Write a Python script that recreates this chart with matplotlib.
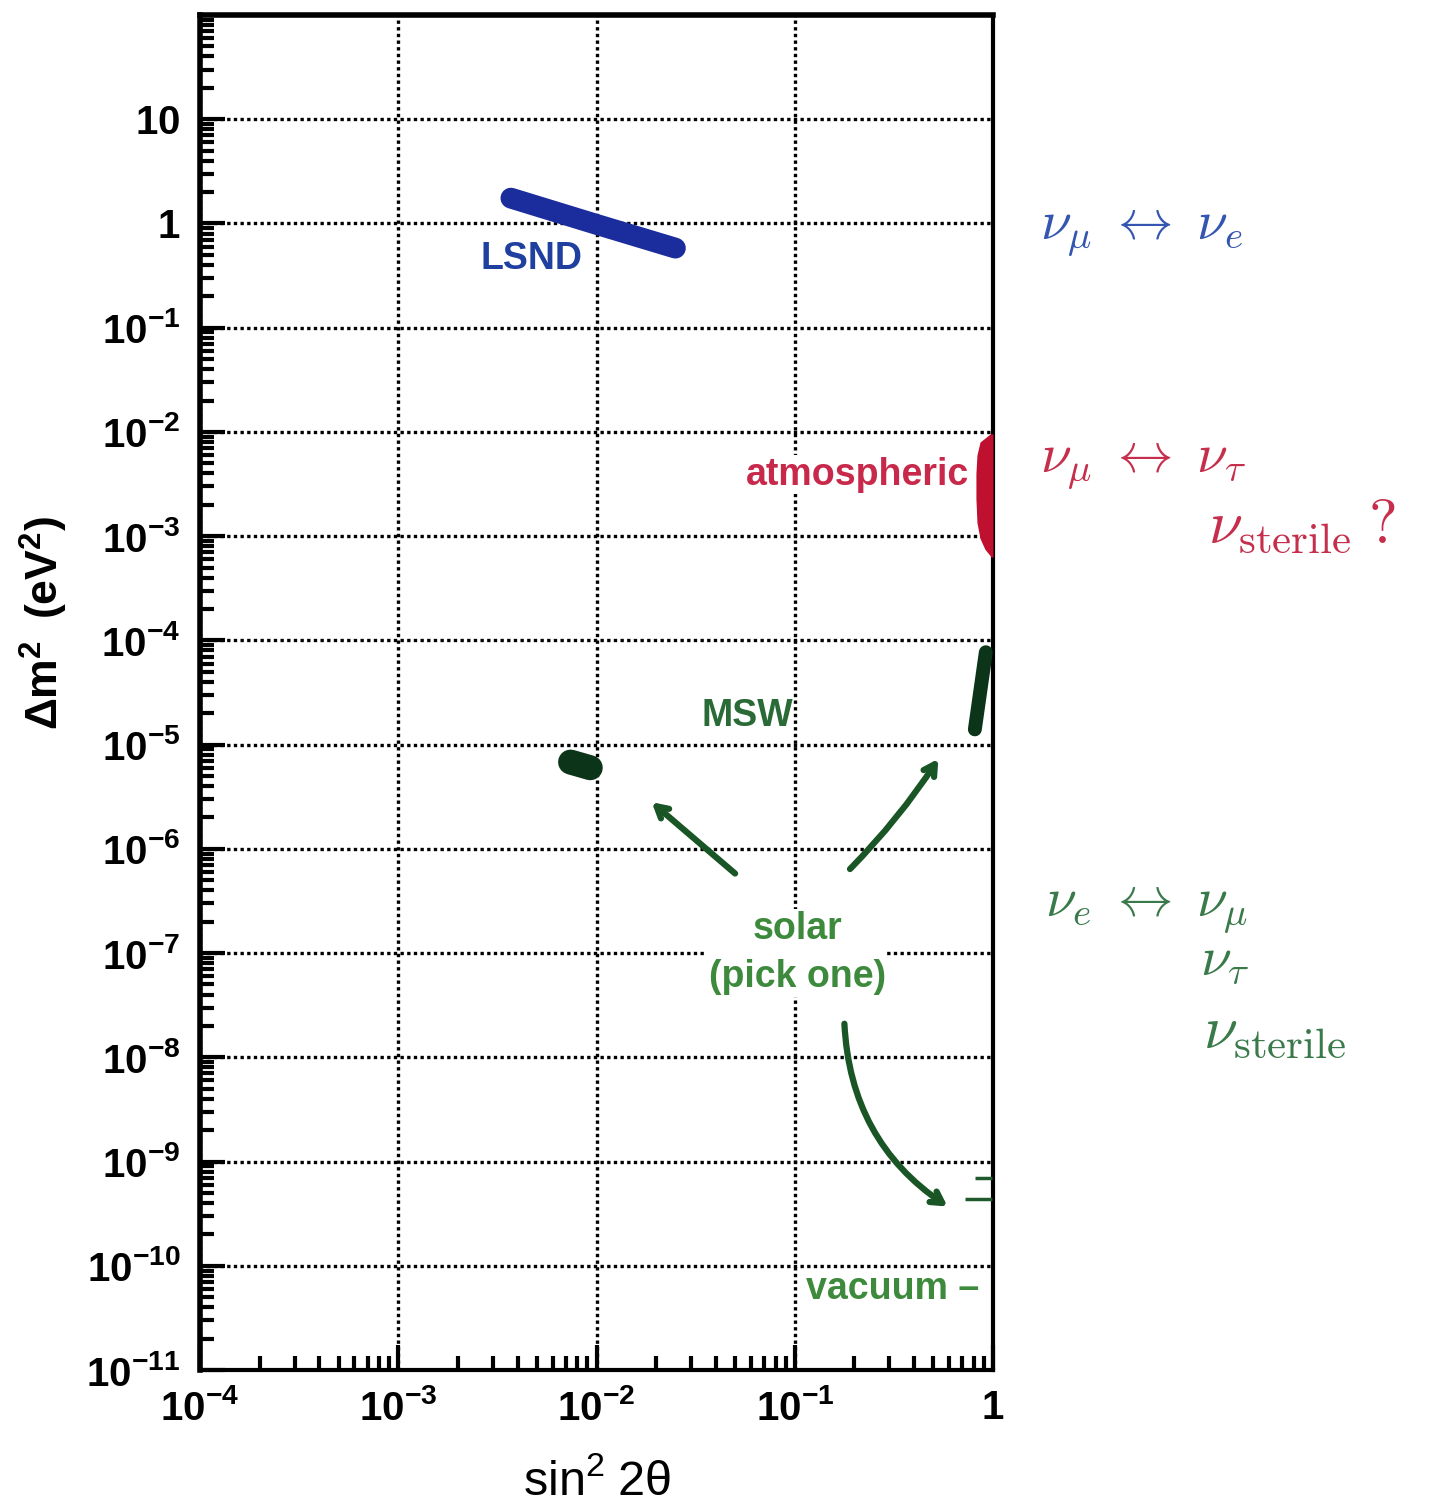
import matplotlib.pyplot as plt
import numpy as np
from matplotlib.ticker import FixedLocator, FixedFormatter, LogLocator, NullFormatter

plt.rcParams['font.family'] = ['Liberation Sans', 'DejaVu Sans']
plt.rcParams['mathtext.fontset'] = 'custom'
plt.rcParams['mathtext.rm'] = 'Liberation Sans'
plt.rcParams['mathtext.bf'] = 'Liberation Sans:bold'
plt.rcParams['mathtext.it'] = 'Liberation Sans:italic'

# === DADOS ===
x_ticks = [1e-4, 1e-3, 1e-2, 1e-1, 1]
x_tick_labels = [r'$\mathbf{10^{-4}}$', r'$\mathbf{10^{-3}}$', r'$\mathbf{10^{-2}}$',
                 r'$\mathbf{10^{-1}}$', r'$\mathbf{1}$']
y_ticks = [1e-11, 1e-10, 1e-9, 1e-8, 1e-7, 1e-6, 1e-5, 1e-4, 1e-3, 1e-2, 1e-1, 1, 10]
y_tick_labels = [r'$\mathbf{10^{-11}}$', r'$\mathbf{10^{-10}}$', r'$\mathbf{10^{-9}}$',
                 r'$\mathbf{10^{-8}}$', r'$\mathbf{10^{-7}}$', r'$\mathbf{10^{-6}}$',
                 r'$\mathbf{10^{-5}}$', r'$\mathbf{10^{-4}}$', r'$\mathbf{10^{-3}}$',
                 r'$\mathbf{10^{-2}}$', r'$\mathbf{10^{-1}}$', r'$\mathbf{1}$', r'$\mathbf{10}$']

# LSND (faixa azul)
lsnd_sin2 = [3.7e-3, 1.0e-2, 2.5e-2]
lsnd_dm2 = [1.75, 0.98, 0.58]

# atmosféricos (região vermelha junto a sin^2 = 1)
atm_dm2 = [9.6e-3, 8.0e-3, 6.0e-3, 4.0e-3, 2.3e-3, 1.35e-3, 9.5e-4, 7.5e-4, 6.3e-4]
atm_sin2_left = [0.97, 0.86, 0.83, 0.82, 0.82, 0.83, 0.86, 0.91, 0.98]

# solares MSW
sma_sin2 = [7.4e-3, 9.3e-3]
sma_dm2 = [6.8e-6, 6.0e-6]
lma_sin2 = [0.92, 0.81]
lma_dm2 = [7.7e-5, 1.4e-5]

# solares vácuo (pequenos traços)
vac_dm2 = [6.9e-10, 4.4e-10]
vac_sin2_left = [0.81, 0.72]

W, H = 1432, 1504
fig = plt.figure(figsize=(W / 100, H / 100), dpi=100)
ax = fig.add_axes([200 / W, 1 - 1370 / H, 793 / W, 1355 / H])
ax.set_xscale('log')
ax.set_yscale('log')
ax.set_xlim(1e-4, 1)
ax.set_ylim(1e-11, 1e2)

# eixos e grade
ax.xaxis.set_major_locator(FixedLocator(x_ticks))
ax.xaxis.set_major_formatter(FixedFormatter(x_tick_labels))
ax.yaxis.set_major_locator(FixedLocator(y_ticks))
ax.yaxis.set_major_formatter(FixedFormatter(y_tick_labels))
ax.xaxis.set_minor_locator(LogLocator(base=10, subs=np.arange(2, 10), numticks=100))
ax.yaxis.set_minor_locator(LogLocator(base=10, subs=np.arange(2, 10), numticks=100))
ax.xaxis.set_minor_formatter(NullFormatter())
ax.yaxis.set_minor_formatter(NullFormatter())
ax.tick_params(which='major', direction='in', length=18, width=3, labelsize=29, pad=14,
               top=False, right=False)
ax.tick_params(which='minor', direction='in', length=10, width=3, top=False, right=False)
ax.grid(True, which='major', color='k', linestyle=(0, (1, 1)), linewidth=2.4)
for side, lw in [('left', 4), ('top', 4), ('right', 3), ('bottom', 3)]:
    ax.spines[side].set_linewidth(lw)

ax.set_xlabel(r'$\mathrm{sin^2\;2\theta}$', fontsize=35, va='top')
ax.xaxis.set_label_coords(0.5, -0.066)
ax.set_ylabel(r'$\mathbf{\Delta m^2\;\;(eV^2)}$', fontsize=32)
ax.yaxis.set_label_coords(-0.164, 0.551)

# marcas
ax.plot(lsnd_sin2, lsnd_dm2, color='#1b2c9c', lw=15, solid_capstyle='round', zorder=3)
ax.fill_betweenx(atm_dm2, atm_sin2_left, 1.0, color='#c01030', lw=0, zorder=3)
ax.plot(sma_sin2, sma_dm2, color='#0c3418', lw=18, solid_capstyle='round', zorder=3)
ax.plot(lma_sin2, lma_dm2, color='#0c3418', lw=10, solid_capstyle='round', zorder=3)
ax.hlines(vac_dm2, vac_sin2_left, 0.99, color='#1f5a2c', lw=2.5, zorder=3)

# rótulos dentro do gráfico
ax.text(4.7e-3, 0.46, 'LSND', color='#2040a0', fontsize=27, fontweight='bold',
        ha='center', va='center', zorder=4)
ax.text(0.207, 3.9e-3, 'atmospheric', color='#c8284a', fontsize=27, fontweight='bold',
        ha='center', va='center', zorder=4,
        bbox=dict(facecolor='white', edgecolor='none', pad=1))
ax.text(0.0575, 1.9e-5, 'MSW', color='#2a6a36', fontsize=27, fontweight='bold',
        ha='center', va='center', zorder=4)
ax.text(0.103, 1.0e-7, 'solar\n(pick one)', color='#3d8a3d', fontsize=27, fontweight='bold',
        ha='center', va='center', zorder=4, linespacing=1.45,
        bbox=dict(facecolor='white', edgecolor='none', pad=1))
ax.text(0.31, 6.0e-11, 'vacuum \u2013', color='#3d8a3d', fontsize=27, fontweight='bold',
        ha='center', va='center', zorder=4)

# setas
arrow_kw = dict(arrowstyle='->,head_length=0.8,head_width=0.45', color='#1a5526', lw=4.5,
                shrinkA=0, shrinkB=0)
ax.annotate('', xy=(0.019, 2.8e-6), xytext=(0.05, 5.8e-7), arrowprops=arrow_kw)
ax.annotate('', xy=(0.53, 7.3e-6), xytext=(0.19, 6.4e-7),
            arrowprops=dict(**arrow_kw, connectionstyle='arc3,rad=0.05'))
ax.annotate('', xy=(0.59, 3.7e-10), xytext=(0.178, 2.1e-8),
            arrowprops=dict(**arrow_kw, connectionstyle='arc3,rad=0.25'))

# anotações à direita
def ftext(px, py, s, color, size=40):
    fig.text(px / W, 1 - py / H, s, color=color, fontsize=size, math_fontfamily='cm',
             ha='left', va='baseline')

ftext(1040, 240, r'$\nu_\mu \;\leftrightarrow\; \nu_e$', '#3556b0')
ftext(1040, 473, r'$\nu_\mu \;\leftrightarrow\; \nu_\tau$', '#c52f4c')
ftext(1208, 543, r'$\nu_{\mathrm{sterile}}\;?$', '#c52f4c', 44)
ftext(1045, 917, r'$\nu_e \;\leftrightarrow\; \nu_\mu$', '#3a7a4a')
ftext(1200, 975, r'$\nu_\tau$', '#3a7a4a')
ftext(1203, 1048, r'$\nu_{\mathrm{sterile}}$', '#3a7a4a', 44)

fig.savefig('out.png', dpi=100)
